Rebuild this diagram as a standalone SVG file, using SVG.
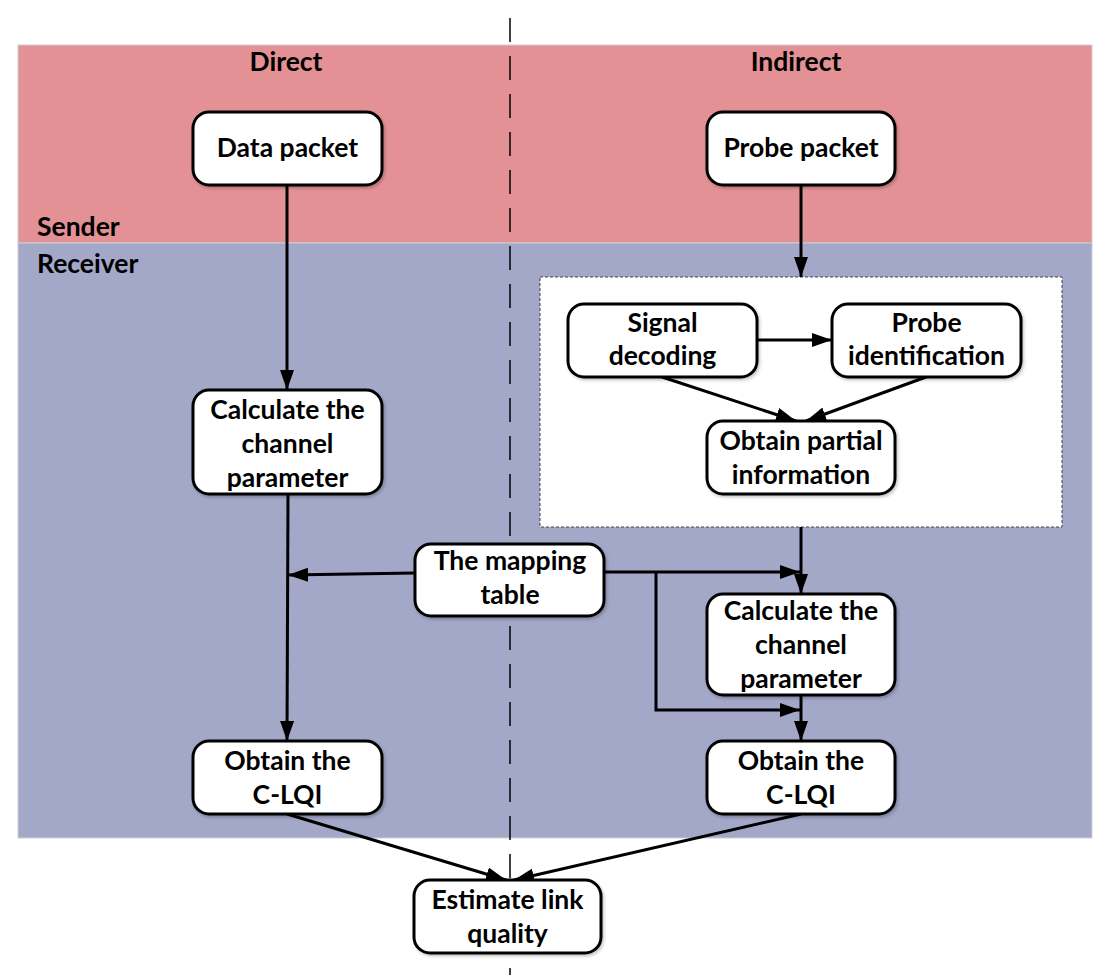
<svg xmlns="http://www.w3.org/2000/svg" width="1108" height="975" viewBox="0 0 1108 975">
  <defs>
    <marker id="arrow" viewBox="0 0 20 14" refX="20" refY="7" markerWidth="20" markerHeight="14" markerUnits="userSpaceOnUse" orient="auto">
      <path d="M0,0 L20,7 L0,14 Z" fill="#000"/>
    </marker>
    <filter id="shadow" x="-10%" y="-10%" width="125%" height="130%">
      <feDropShadow dx="1.5" dy="2" stdDeviation="1.5" flood-color="#000" flood-opacity="0.22"/>
    </filter>
  </defs>
  <style>
    .lbl { font-family: Lato, "Open Sans", "Liberation Sans", sans-serif; font-weight: bold; font-size: 26.5px; fill: #000; text-anchor: middle; }
    .side { text-anchor: start; }
    .node rect { fill: #fff; stroke: #000; stroke-width: 3; filter: url(#shadow); }
    .conn path { fill: none; stroke: #000; stroke-width: 3; }
    .arr { marker-end: url(#arrow); }
  </style>

  <rect width="1108" height="975" fill="#fff"/>

  <!-- sender / receiver bands -->
  <rect x="18" y="45" width="1074" height="198" fill="#E39194" stroke="#cfcfcf" stroke-width="1"/>
  <rect x="18" y="243" width="1074" height="595" fill="#A3A7C8" stroke="#cfcfcf" stroke-width="1"/>

  <!-- dashed separator between the two methods -->
  <line x1="510" y1="18" x2="510" y2="975" stroke="#000" stroke-width="1.5" stroke-dasharray="24,14"/>

  <!-- grouping box for the probe processing steps -->
  <rect x="540" y="277" width="522" height="250" fill="#fff" stroke="#444" stroke-width="1" stroke-dasharray="3,2"/>

  <text class="lbl" x="286" y="71">Direct</text>
  <text class="lbl" x="796" y="71">Indirect</text>
  <text class="lbl side" x="37" y="236">Sender</text>
  <text class="lbl side" x="37" y="273">Receiver</text>

  <g class="conn">
    <path class="arr" d="M287,185 L287,390"/>
    <path class="arr" d="M801,185 L801,277"/>
    <path class="arr" d="M757,340 L832,340"/>
    <path class="arr" d="M662,377 L796,421"/>
    <path class="arr" d="M926,377 L806,421"/>
    <path class="arr" d="M801,527 L801,594"/>
    <path class="arr" d="M604,572 L800,572"/>
    <path class="arr" d="M656,572 L656,710 L800,710"/>
    <path class="arr" d="M801,695 L801,741"/>
    <path class="arr" d="M415,573 L288,575"/>
    <path class="arr" d="M288,494 L287,741"/>
    <path class="arr" d="M287,814 L506,880"/>
    <path class="arr" d="M801,814 L514,880"/>
  </g>

  <g id="data-packet" class="node">
    <rect x="193" y="112" width="189" height="73" rx="16"/>
    <text class="lbl" x="287.5" y="157">Data packet</text>
  </g>
  <g id="probe-packet" class="node">
    <rect x="707" y="112" width="188" height="73" rx="16"/>
    <text class="lbl" x="801" y="157">Probe packet</text>
  </g>
  <g id="signal-decoding" class="node">
    <rect x="568" y="304" width="189" height="73" rx="16"/>
    <text class="lbl" x="662.5" y="332">Signal</text>
    <text class="lbl" x="662.5" y="365">decoding</text>
  </g>
  <g id="probe-identification" class="node">
    <rect x="832" y="304" width="189" height="73" rx="16"/>
    <text class="lbl" x="926.5" y="332">Probe</text>
    <text class="lbl" x="926.5" y="365">identification</text>
  </g>
  <g id="obtain-partial" class="node">
    <rect x="707" y="421" width="188" height="73" rx="16"/>
    <text class="lbl" x="801" y="450">Obtain partial</text>
    <text class="lbl" x="801" y="484">information</text>
  </g>
  <g id="calc-direct" class="node">
    <rect x="193" y="390" width="189" height="104" rx="16"/>
    <text class="lbl" x="287.5" y="419">Calculate the</text>
    <text class="lbl" x="287.5" y="453">channel</text>
    <text class="lbl" x="287.5" y="487">parameter</text>
  </g>
  <g id="mapping-table" class="node">
    <rect x="415" y="544" width="189" height="72" rx="16"/>
    <text class="lbl" x="510" y="570">The mapping</text>
    <text class="lbl" x="510" y="604">table</text>
  </g>
  <g id="calc-indirect" class="node">
    <rect x="707" y="594" width="188" height="101" rx="16"/>
    <text class="lbl" x="801" y="620">Calculate the</text>
    <text class="lbl" x="801" y="654">channel</text>
    <text class="lbl" x="801" y="688">parameter</text>
  </g>
  <g id="clqi-direct" class="node">
    <rect x="193" y="741" width="189" height="73" rx="16"/>
    <text class="lbl" x="287.5" y="770">Obtain the</text>
    <text class="lbl" x="287.5" y="804">C-LQI</text>
  </g>
  <g id="clqi-indirect" class="node">
    <rect x="707" y="741" width="188" height="73" rx="16"/>
    <text class="lbl" x="801" y="770">Obtain the</text>
    <text class="lbl" x="801" y="804">C-LQI</text>
  </g>
  <g id="estimate" class="node">
    <rect x="414" y="880" width="187" height="73" rx="16"/>
    <text class="lbl" x="507.5" y="909">Estimate link</text>
    <text class="lbl" x="507.5" y="943">quality</text>
  </g>
</svg>
